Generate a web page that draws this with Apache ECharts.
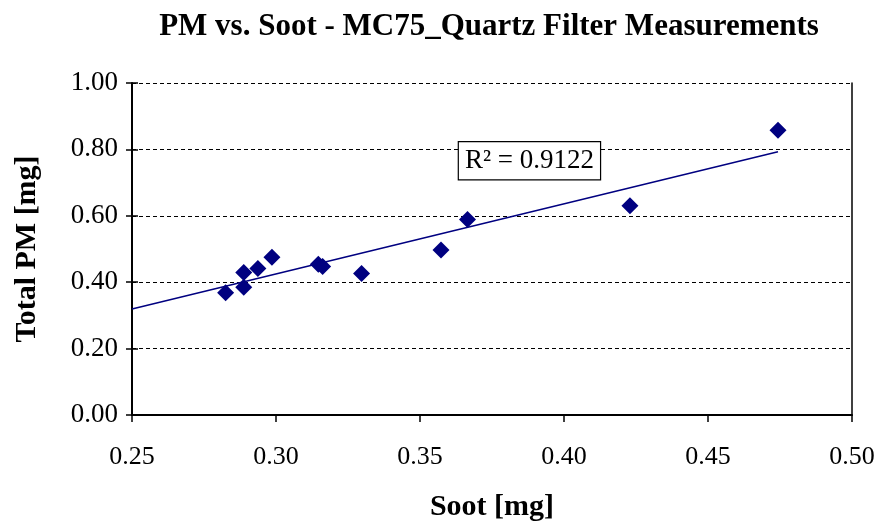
<!DOCTYPE html>
<html><head><meta charset="utf-8">
<script src="https://cdn.jsdelivr.net/npm/echarts@6/dist/echarts.min.js"></script>
<style>html,body{margin:0;padding:0;background:#fff}#c{width:880px;height:524px}</style>
</head><body><div id="c"></div>
<script>
const sootValues = [0.2825, 0.2888, 0.2888, 0.2937, 0.2986, 0.3147, 0.3162, 0.3297, 0.3573, 0.3665, 0.4229, 0.4743];
const pmValues   = [0.368, 0.429, 0.385, 0.441, 0.475, 0.454, 0.447, 0.426, 0.497, 0.589, 0.630, 0.858];
const trendX = [0.25, 0.4743];
const trendY = [0.319, 0.793];
const r2Text = 'R² = 0.9122';
const r2Pos = [0.388, 0.766];

const font = 'Liberation Serif';
const yBase = {type: 'value', min: 0, max: 1, interval: 0.2};
const chart = echarts.init(document.getElementById('c'));
chart.setOption({
  animation: false,
  title: {
    text: 'PM vs. Soot - MC75_Quartz Filter Measurements',
    left: 484, top: 6, textAlign: 'center',
    textStyle: {fontFamily: font, fontWeight: 'bold', fontSize: 31, color: '#000'}
  },
  grid: {left: 132, right: 28, top: 83, bottom: 109, containLabel: false, outerBoundsMode: 'none'},
  xAxis: {
    type: 'value', min: 0.25, max: 0.5, interval: 0.05,
    name: 'Soot [mg]', nameLocation: 'middle', nameGap: 77,
    nameTextStyle: {fontFamily: font, fontWeight: 'bold', fontSize: 30, color: '#000'},
    axisLine: {lineStyle: {color: '#000', width: 2}},
    axisTick: {show: true, length: 7, lineStyle: {color: '#000', width: 1.5}},
    axisLabel: {fontFamily: font, fontSize: 26, color: '#000', margin: 29, formatter: v => v.toFixed(2)},
    splitLine: {show: false}
  },
  yAxis: [
    Object.assign({}, yBase, {
      position: 'left',
      name: 'Total PM [mg]', nameLocation: 'middle', nameGap: 90,
      nameTextStyle: {fontFamily: font, fontWeight: 'bold', fontSize: 30, color: '#000'},
      axisLine: {show: true, lineStyle: {color: '#000', width: 2}},
      axisTick: {show: true, length: 6, lineStyle: {color: '#000', width: 1.5}},
      axisLabel: {fontFamily: font, fontSize: 27, color: '#000', margin: 14, formatter: v => v.toFixed(2)},
      splitLine: {show: true, lineStyle: {color: '#000', type: [4, 3], width: 1.2}}
    }),
    Object.assign({}, yBase, {
      position: 'left',
      axisLine: {show: false},
      axisTick: {show: true, inside: true, length: 6, lineStyle: {color: '#000', width: 1.5}},
      axisLabel: {show: false},
      splitLine: {show: false}
    }),
    Object.assign({}, yBase, {
      position: 'right',
      axisLine: {show: true, lineStyle: {color: '#000', width: 1.5}},
      axisTick: {show: false},
      axisLabel: {show: false},
      splitLine: {show: false}
    })
  ],
  series: [
    {
      type: 'line',
      data: trendX.map((x, i) => [x, trendY[i]]),
      symbol: 'none',
      lineStyle: {color: '#000080', width: 1.5},
      z: 2,
      markPoint: {
        symbol: 'rect', symbolSize: 1,
        itemStyle: {color: 'rgba(0,0,0,0)'},
        data: [{coord: r2Pos, value: r2Text}],
        label: {
          show: true, position: 'inside', formatter: r2Text,
          fontFamily: font, fontSize: 27, color: '#000',
          backgroundColor: '#fff', borderColor: '#000', borderWidth: 1.2,
          padding: [6, 6, 4, 6]
        }
      }
    },
    {
      type: 'scatter',
      data: sootValues.map((x, i) => [x, pmValues[i]]),
      symbol: 'diamond', symbolSize: 17,
      itemStyle: {color: '#000080', opacity: 1},
      z: 3
    }
  ]
});
</script></body></html>
